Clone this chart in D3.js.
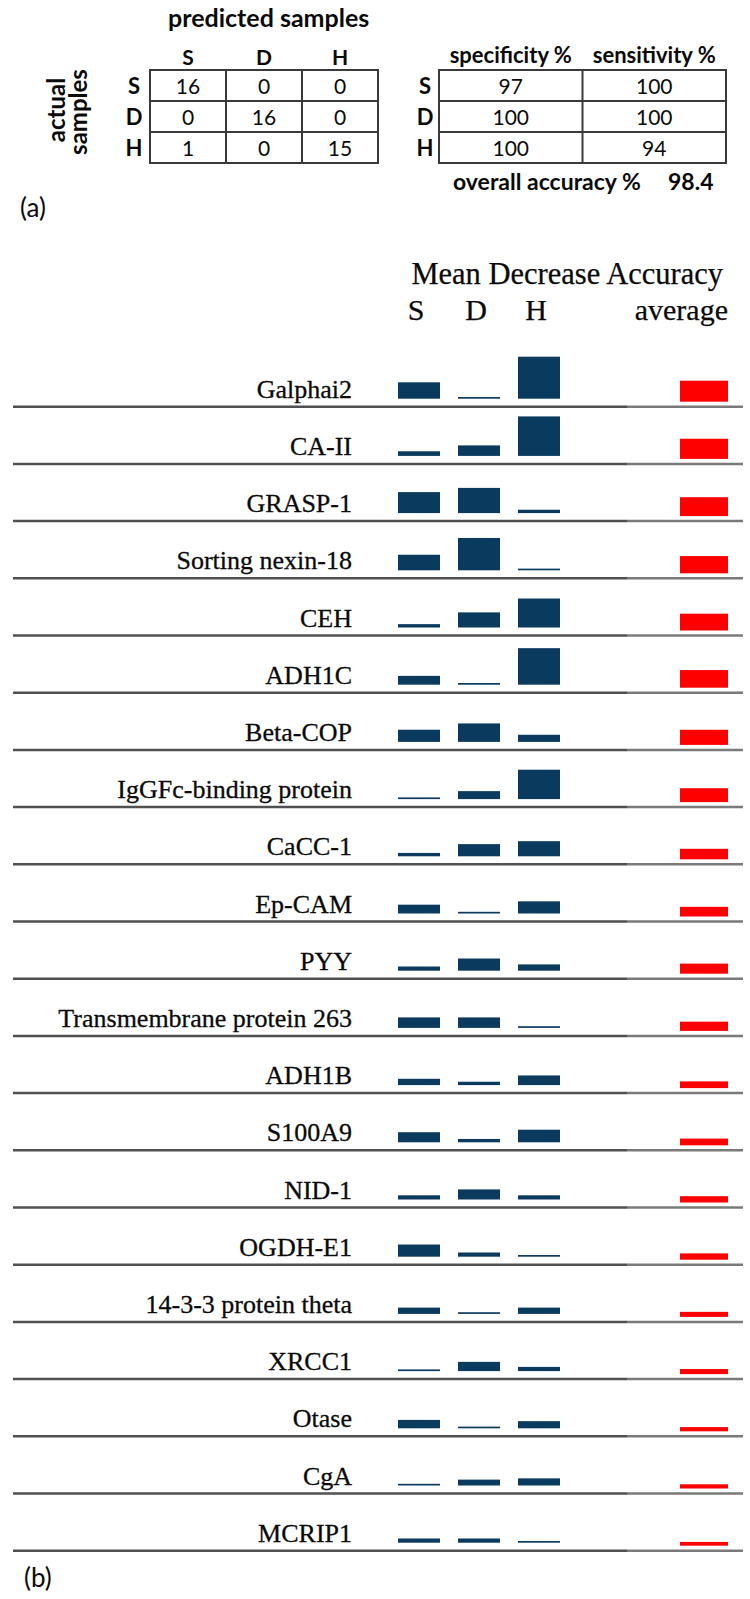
<!DOCTYPE html>
<html>
<head>
<meta charset="utf-8">
<script src="https://cdn.jsdelivr.net/npm/d3@7"></script>
<style>
  html, body { margin: 0; padding: 0; background: #ffffff; }
  svg { display: block; }
</style>
</head>
<body>
<script>
// ---------------- DATA ----------------
// (a) confusion matrix
const classes = ["S", "D", "H"];
const actualS = [16, 0, 0];
const actualD = [0, 16, 0];
const actualH = [1, 0, 15];
const specificity = [97, 100, 100];
const sensitivity = [100, 100, 94];
const overallAccuracy = 98.4;

// (b) Mean Decrease Accuracy
const proteins = [
  "Galphai2", "CA-II", "GRASP-1", "Sorting nexin-18", "CEH", "ADH1C", "Beta-COP",
  "IgGFc-binding protein", "CaCC-1", "Ep-CAM", "PYY", "Transmembrane protein 263",
  "ADH1B", "S100A9", "NID-1", "OGDH-E1", "14-3-3 protein theta", "XRCC1",
  "Otase", "CgA", "MCRIP1"
];
const mdaS   = [3.9, 1.1, 5.0, 3.7, 0.8, 2.1, 2.9, 0.4, 0.8, 2.1, 1.0, 2.5, 1.5, 2.4, 1.0, 2.9, 1.5, 0.4, 2.0, 0.4, 1.0];
const mdaD   = [0.4, 2.5, 6.0, 7.7, 3.6, 0.4, 4.4, 1.9, 2.9, 0.4, 2.9, 2.5, 0.8, 0.8, 2.4, 1.0, 0.4, 2.2, 0.4, 1.4, 1.0];
const mdaH   = [10.0, 9.4, 0.8, 0.4, 6.9, 8.7, 1.7, 7.0, 3.6, 2.9, 1.5, 0.4, 2.3, 3.0, 1.0, 0.4, 1.5, 1.0, 1.7, 1.7, 0.4];
const mdaAvg = [5.0, 4.8, 4.5, 4.1, 4.0, 4.2, 3.6, 3.3, 2.5, 2.3, 2.4, 2.2, 1.6, 1.6, 1.5, 1.5, 1.2, 1.2, 1.0, 1.0, 0.9];
const mdaHeaders = ["S", "D", "H"];

// ---------------- DRAW ----------------
const W = 750, H = 1599;
const svg = d3.select("body").append("svg").attr("width", W).attr("height", H);

const sans = "Lato, 'Open Sans', sans-serif";
const serif = "'Liberation Serif', 'DejaVu Serif', serif";
const gridCol = "#3a3a3a";
const ink = "#0a0a0a";

// ===== (a) =====
const ga = svg.append("g");
const cmX = d3.scaleBand().domain(classes).range([150, 378]);
const cmY = d3.scaleBand().domain(classes).range([70, 163]);
const matrix = [actualS, actualD, actualH];

ga.append("text").attr("x", 168).attr("y", 27)
  .attr("font-family", sans).attr("font-weight", 700).attr("font-size", 25)
  .attr("fill", ink).text("predicted samples");

ga.selectAll(".colh").data(classes).join("text")
  .attr("x", d => cmX(d) + cmX.bandwidth() / 2).attr("y", 65)
  .attr("text-anchor", "middle")
  .attr("font-family", sans).attr("font-weight", 700).attr("font-size", 21)
  .attr("fill", ink).text(d => d);

ga.selectAll(".rowh").data(classes).join("text")
  .attr("x", 134).attr("y", d => cmY(d) + cmY.bandwidth() / 2 + 8)
  .attr("text-anchor", "middle")
  .attr("font-family", sans).attr("font-weight", 700).attr("font-size", 22)
  .attr("fill", ink).text(d => d);

// matrix grid
ga.append("rect").attr("x", cmX.range()[0]).attr("y", cmY.range()[0])
  .attr("width", cmX.range()[1] - cmX.range()[0]).attr("height", cmY.range()[1] - cmY.range()[0])
  .attr("fill", "none").attr("stroke", gridCol).attr("stroke-width", 2);
classes.slice(1).forEach(c => {
  ga.append("line").attr("x1", cmX(c)).attr("x2", cmX(c)).attr("y1", cmY.range()[0]).attr("y2", cmY.range()[1])
    .attr("stroke", gridCol).attr("stroke-width", 2);
  ga.append("line").attr("x1", cmX.range()[0]).attr("x2", cmX.range()[1]).attr("y1", cmY(c)).attr("y2", cmY(c))
    .attr("stroke", gridCol).attr("stroke-width", 2);
});
matrix.forEach((row, ri) => {
  row.forEach((v, ci) => {
    ga.append("text")
      .attr("x", cmX(classes[ci]) + cmX.bandwidth() / 2)
      .attr("y", cmY(classes[ri]) + cmY.bandwidth() / 2 + 8)
      .attr("text-anchor", "middle")
      .attr("font-family", sans).attr("font-size", 21)
      .attr("fill", ink).text(v);
  });
});

// actual samples (rotated)
ga.append("text").attr("transform", "translate(65,110) rotate(-90)")
  .attr("text-anchor", "middle")
  .attr("font-family", sans).attr("font-weight", 700).attr("font-size", 24)
  .attr("fill", ink).text("actual");
ga.append("text").attr("transform", "translate(87,112) rotate(-90)")
  .attr("text-anchor", "middle")
  .attr("font-family", sans).attr("font-weight", 700).attr("font-size", 24)
  .attr("fill", ink).text("samples");

// specificity / sensitivity table
const metricCols = ["specificity %", "sensitivity %"];
const mX = d3.scaleBand().domain(metricCols).range([439, 726]);
const metricData = [specificity, sensitivity];

ga.selectAll(".mh").data(metricCols).join("text")
  .attr("x", d => mX(d) + mX.bandwidth() / 2).attr("y", 63)
  .attr("text-anchor", "middle")
  .attr("font-family", sans).attr("font-weight", 700).attr("font-size", 22)
  .attr("fill", ink).text(d => d);

ga.selectAll(".mrh").data(classes).join("text")
  .attr("x", 425).attr("y", d => cmY(d) + cmY.bandwidth() / 2 + 8)
  .attr("text-anchor", "middle")
  .attr("font-family", sans).attr("font-weight", 700).attr("font-size", 22)
  .attr("fill", ink).text(d => d);

ga.append("rect").attr("x", mX.range()[0]).attr("y", cmY.range()[0])
  .attr("width", mX.range()[1] - mX.range()[0]).attr("height", cmY.range()[1] - cmY.range()[0])
  .attr("fill", "none").attr("stroke", gridCol).attr("stroke-width", 2);
ga.append("line").attr("x1", mX(metricCols[1])).attr("x2", mX(metricCols[1]))
  .attr("y1", cmY.range()[0]).attr("y2", cmY.range()[1])
  .attr("stroke", gridCol).attr("stroke-width", 2);
classes.slice(1).forEach(c => {
  ga.append("line").attr("x1", mX.range()[0]).attr("x2", mX.range()[1]).attr("y1", cmY(c)).attr("y2", cmY(c))
    .attr("stroke", gridCol).attr("stroke-width", 2);
});
metricData.forEach((col, ci) => {
  col.forEach((v, ri) => {
    ga.append("text")
      .attr("x", mX(metricCols[ci]) + mX.bandwidth() / 2)
      .attr("y", cmY(classes[ri]) + cmY.bandwidth() / 2 + 8)
      .attr("text-anchor", "middle")
      .attr("font-family", sans).attr("font-size", 21)
      .attr("fill", ink).text(v);
  });
});

ga.append("text").attr("x", 453).attr("y", 190)
  .attr("font-family", sans).attr("font-weight", 700).attr("font-size", 23)
  .attr("fill", ink).text("overall accuracy %");
ga.append("text").attr("x", 668).attr("y", 190)
  .attr("font-family", sans).attr("font-weight", 700).attr("font-size", 23)
  .attr("fill", ink).text(overallAccuracy);

ga.append("text").attr("x", 20).attr("y", 217)
  .attr("font-family", sans).attr("font-size", 26)
  .attr("fill", ink).text("(a)");

// ===== (b) =====
const gb = svg.append("g");
const rowY = d3.scaleBand().domain(proteins).range([349.5, 1550.7]);
const colX = d3.scaleBand().domain(mdaHeaders).range([398, 560]).paddingInner(0.3).paddingOuter(0);
const hScale = d3.scaleLinear().domain([0, 10]).range([0, 42]);
const avgX0 = 680, avgW = 48;
const blue = "#0b3a5f", red = "#ff0000";

gb.append("text").attr("x", 723).attr("y", 284).attr("text-anchor", "end")
  .attr("font-family", serif).attr("font-size", 30.5).attr("fill", ink)
  .attr("stroke", ink).attr("stroke-width", 0.25)
  .text("Mean Decrease Accuracy");
gb.selectAll(".bh").data(mdaHeaders).join("text")
  .attr("x", d => colX(d) + colX.bandwidth() / 2 - 3).attr("y", 320)
  .attr("text-anchor", "middle")
  .attr("font-family", serif).attr("font-size", 30).attr("fill", ink)
  .attr("stroke", ink).attr("stroke-width", 0.25)
  .text(d => d);
gb.append("text").attr("x", 728).attr("y", 320).attr("text-anchor", "end")
  .attr("font-family", serif).attr("font-size", 30).attr("fill", ink)
  .attr("stroke", ink).attr("stroke-width", 0.25)
  .text("average");

const sepY = p => rowY(p) + rowY.bandwidth();

// separators
gb.selectAll(".sep").data(proteins).join("line")
  .attr("x1", 13).attr("x2", 627)
  .attr("y1", d => sepY(d)).attr("y2", d => sepY(d))
  .attr("stroke", "#505050").attr("stroke-width", 2.5);
gb.selectAll(".sep2").data(proteins).join("line")
  .attr("x1", 627).attr("x2", 743)
  .attr("y1", d => sepY(d)).attr("y2", d => sepY(d))
  .attr("stroke", "#7a7a7a").attr("stroke-width", 2.5);

// labels
gb.selectAll(".lab").data(proteins).join("text")
  .attr("x", 352).attr("y", d => sepY(d) - 9)
  .attr("text-anchor", "end")
  .attr("font-family", serif).attr("font-size", 26).attr("fill", ink)
  .attr("stroke", ink).attr("stroke-width", 0.3)
  .text(d => d);

// class bars
const series = [mdaS, mdaD, mdaH];
series.forEach((vals, si) => {
  const key = mdaHeaders[si];
  gb.selectAll(".bar" + key).data(proteins).join("rect")
    .attr("x", colX(key)).attr("width", colX.bandwidth())
    .attr("y", (d, i) => sepY(d) - 8 - hScale(vals[i]))
    .attr("height", (d, i) => hScale(vals[i]))
    .attr("fill", blue);
});
// average bars
gb.selectAll(".avg").data(proteins).join("rect")
  .attr("x", avgX0).attr("width", avgW)
  .attr("y", (d, i) => sepY(d) - 5 - hScale(mdaAvg[i]))
  .attr("height", (d, i) => hScale(mdaAvg[i]))
  .attr("fill", red);

gb.append("text").attr("x", 24).attr("y", 1587)
  .attr("font-family", sans).attr("font-size", 26)
  .attr("fill", ink).text("(b)");
</script>
</body>
</html>
